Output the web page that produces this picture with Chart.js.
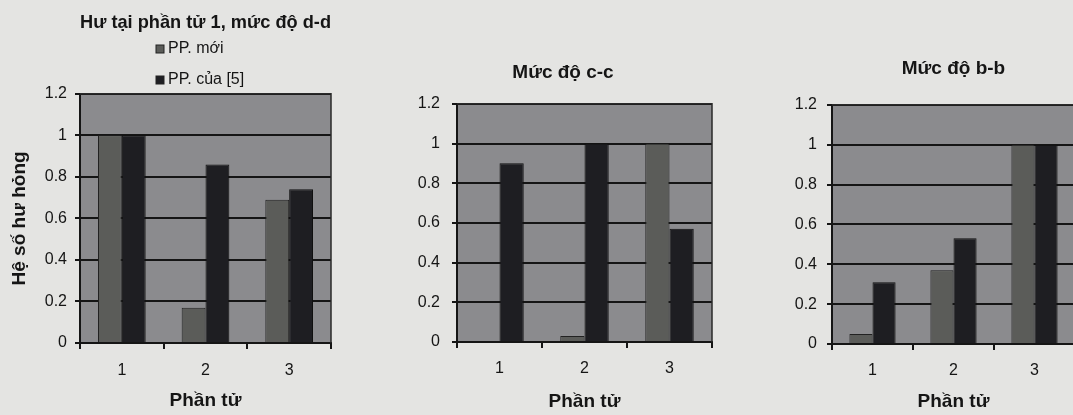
<!DOCTYPE html>
<html>
<head>
<meta charset="utf-8">
<script src="https://cdn.jsdelivr.net/npm/chart.js@4/dist/chart.umd.min.js"></script>
<style>
  body { margin: 0; width: 1073px; height: 415px; overflow: hidden; background: #e4e4e2; position: relative; }
  canvas { position: absolute; top: 0; }
</style>
</head>
<body>
<canvas id="chart1" width="355" height="415" style="left:0px"></canvas>
<canvas id="chart2" width="314" height="415" style="left:400px"></canvas>
<canvas id="chart3" width="320" height="415" style="left:780px"></canvas>
<script>
// data
const categories = ['1', '2', '3'];
const seriesNames = ['PP. mới', 'PP. của [5]'];
const yTicks = [0, 0.2, 0.4, 0.6, 0.8, 1, 1.2];

const ddNew = [1, 0.17, 0.69];
const ddRef = [1, 0.86, 0.74];
const ccNew = [0, 0.03, 1];
const ccRef = [0.9, 1, 0.57];
const bbNew = [0.05, 0.37, 1];
const bbRef = [0.31, 0.53, 1];

const titles = ['Hư tại phần tử 1, mức độ d-d', 'Mức độ c-c', 'Mức độ b-b'];
const xTitle = 'Phần tử';
const yTitle = 'Hệ số hư hỏng';

const FONT = '"Liberation Sans", Arial, sans-serif';
const INK = '#151515';
const barColors = ['#5b5c59', '#1e1e22'];

// gray plot background + border
const plotBg = {
  id: 'plotBg',
  beforeDraw(chart) {
    const a = chart.chartArea, ctx = chart.ctx;
    ctx.save();
    ctx.fillStyle = '#8b8b8e';
    ctx.fillRect(a.left, a.top, a.right - a.left, a.bottom - a.top);
    ctx.restore();
  },
  afterDraw(chart) {
    const a = chart.chartArea, ctx = chart.ctx;
    ctx.save();
    ctx.strokeStyle = '#2a2a2a';
    ctx.lineWidth = 1.5;
    ctx.beginPath();
    ctx.moveTo(a.left, a.top);
    ctx.lineTo(a.right, a.top);
    ctx.lineTo(a.right, a.bottom);
    ctx.stroke();
    ctx.restore();
  }
};

// legend stacked in a column, only for the first chart
const stackLegend = {
  id: 'stackLegend',
  afterDraw(chart, args, opts) {
    if (!opts.show) return;
    const ctx = chart.ctx;
    ctx.save();
    ctx.font = '16px ' + FONT;
    ctx.textBaseline = 'middle';
    chart.data.datasets.forEach((ds, i) => {
      const y = opts.y[i];
      ctx.fillStyle = ds.backgroundColor;
      ctx.fillRect(opts.x, y - 4, 8, 8);
      ctx.strokeStyle = '#222';
      ctx.lineWidth = 1;
      ctx.strokeRect(opts.x, y - 4, 8, 8);
      ctx.fillStyle = INK;
      ctx.fillText(ds.label, opts.x + 12, y);
    });
    ctx.restore();
  }
};

function makeChart(id, newVals, refVals, cfg) {
  return new Chart(document.getElementById(id), {
    type: 'bar',
    data: {
      labels: categories,
      datasets: [
        { label: seriesNames[0], data: newVals, backgroundColor: barColors[0], borderColor: '#222', borderWidth: 1 },
        { label: seriesNames[1], data: refVals, backgroundColor: barColors[1], borderColor: '#111', borderWidth: 1 }
      ]
    },
    options: {
      responsive: false,
      animation: false,
      layout: { padding: cfg.padding },
      datasets: { bar: { categoryPercentage: 0.57, barPercentage: 1 } },
      plugins: {
        legend: { display: false },
        tooltip: { enabled: false },
        title: {
          display: true,
          text: cfg.title,
          fullSize: cfg.titleFull,
          color: INK,
          font: { family: FONT, size: 19, weight: 'bold' },
          padding: cfg.titlePad
        },
        stackLegend: cfg.legend || { show: false }
      },
      scales: {
        x: {
          afterFit: s => { s.height = cfg.xHeight; },
          grid: { offset: true, drawOnChartArea: false, tickLength: 6, color: INK, lineWidth: 2 },
          border: { color: INK, width: 2 },
          ticks: { color: INK, padding: cfg.xPad, font: { family: FONT, size: 16 } },
          title: {
            display: true, text: xTitle, color: INK,
            font: { family: FONT, size: 19, weight: 'bold' },
            padding: { top: 0, bottom: cfg.xTitlePad }
          }
        },
        y: {
          min: 0, max: 1.2,
          afterFit: s => { s.width = cfg.yWidth; },
          afterBuildTicks: s => { s.ticks = yTicks.map(v => ({ value: v })); },
          grid: { color: INK, lineWidth: 2, tickLength: 5 },
          border: { color: INK, width: 2 },
          ticks: {
            color: INK, padding: cfg.yPad, font: { family: FONT, size: 16 },
            callback: v => String(Number(v.toFixed(1)))
          },
          title: {
            display: cfg.yTitle, text: yTitle, color: INK,
            font: { family: FONT, size: 19, weight: 'bold' },
            padding: { top: 8, bottom: 0 }
          }
        }
      }
    },
    plugins: [plotBg, stackLegend]
  });
}

makeChart('chart1', ddNew, ddRef, {
  title: titles[0], titleFull: false,
  titlePad: { top: 11, bottom: 60 },
  padding: { left: 0, right: 24, top: 0, bottom: 0 },
  xHeight: 72, xPad: 12, xTitlePad: 3,
  yWidth: 80, yPad: 8, yTitle: true,
  legend: { show: true, x: 156, y: [49, 80] }
});

makeChart('chart2', ccNew, ccRef, {
  title: titles[1], titleFull: true,
  titlePad: { top: 61, bottom: 20 },
  padding: { left: 14, right: 2, top: 0, bottom: 0 },
  xHeight: 73, xPad: 11, xTitlePad: 2,
  yWidth: 43, yPad: 12, yTitle: false
});

makeChart('chart3', bbNew, bbRef, {
  title: titles[2], titleFull: false,
  titlePad: { top: 57, bottom: 25 },
  padding: { left: 0, right: 25, top: 0, bottom: 0 },
  xHeight: 71, xPad: 11, xTitlePad: 2,
  yWidth: 52, yPad: 10, yTitle: false
});
</script>
</body>
</html>
